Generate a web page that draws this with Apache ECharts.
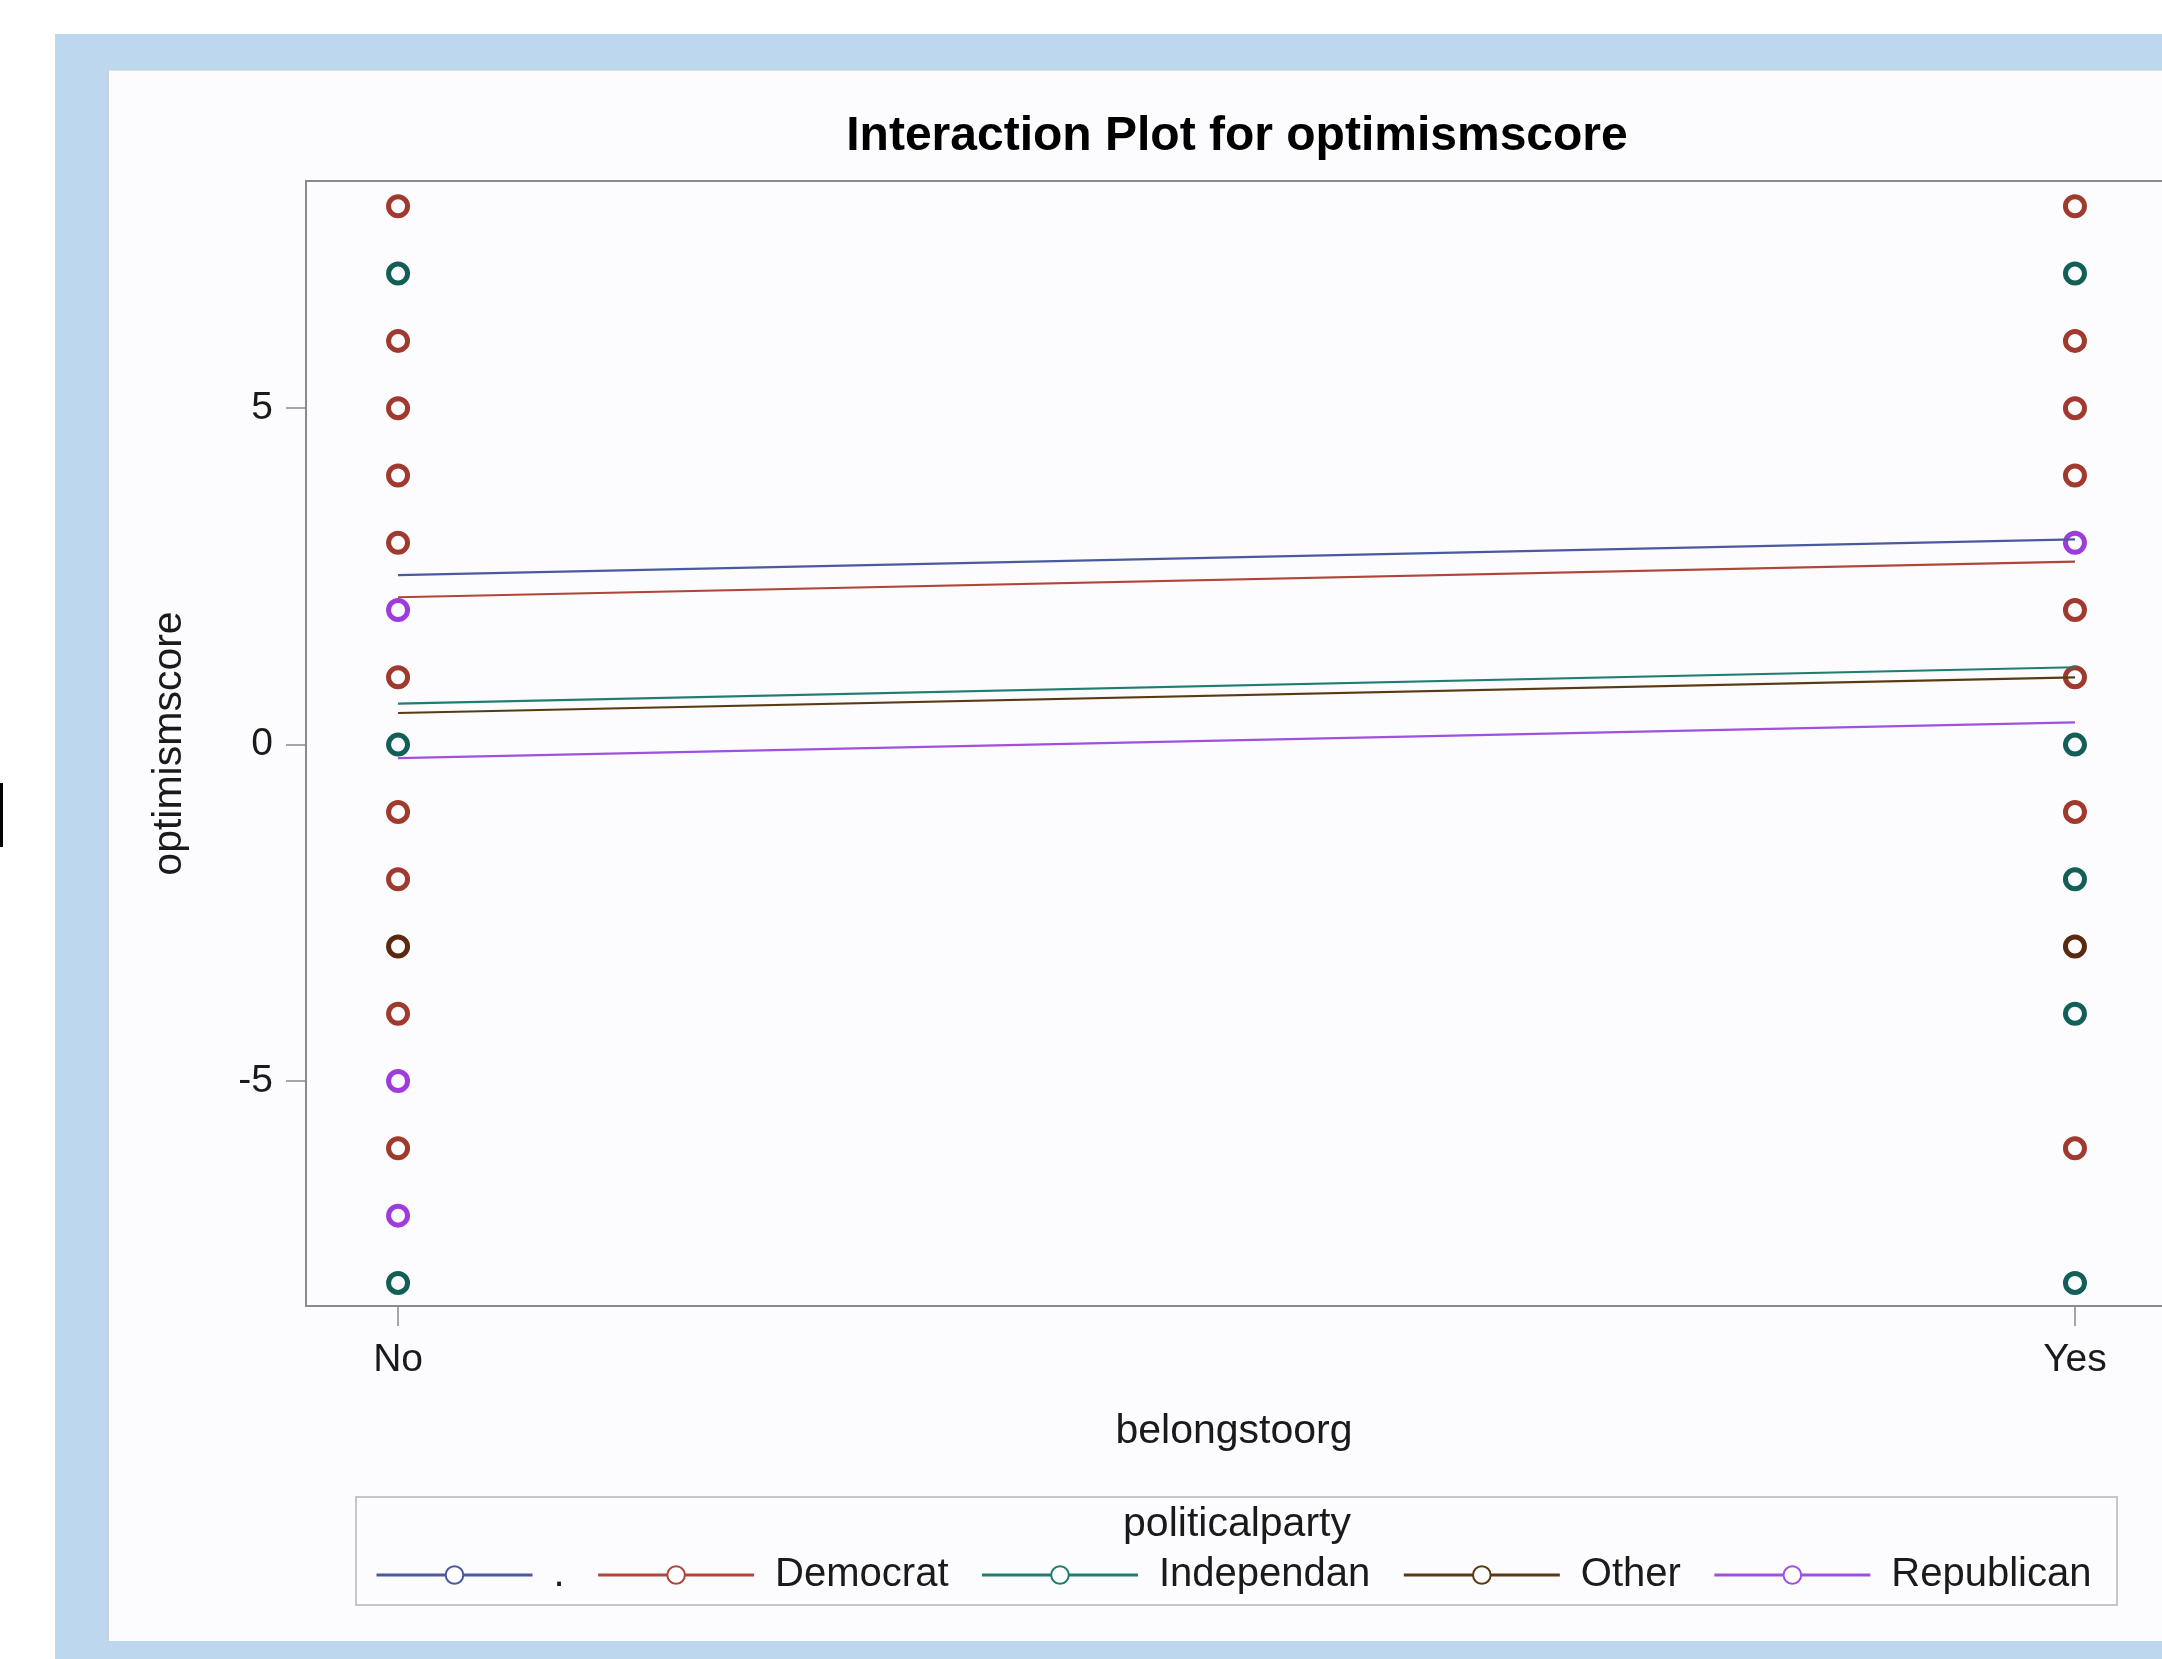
<!DOCTYPE html>
<html>
<head>
<meta charset="utf-8">
<script src="https://cdn.jsdelivr.net/npm/echarts@6/dist/echarts.min.js"></script>
<style>
html,body{margin:0;padding:0;background:#ffffff;}
#wrap{position:relative;width:2162px;height:1659px;overflow:hidden;background:#ffffff;}
#blue{position:absolute;left:55px;top:34px;width:2107px;height:1625px;background:#bdd7ee;}
#panel{position:absolute;left:107px;top:70px;width:2055px;height:1571px;background:#fcfbfe;border-left:2px solid #d0d0d0;border-top:1px solid #e2ddd0;box-sizing:border-box;}
#bar{position:absolute;left:0;top:783px;width:3px;height:64px;background:#000;}
#c{position:absolute;left:0;top:0;width:2162px;height:1659px;}
</style>
</head>
<body>
<div id="wrap">
  <div id="blue"></div>
  <div id="panel"></div>
  <div id="bar"></div>
  <div id="c"></div>
</div>
<script>
// ---- data ----
const categories = ['No', 'Yes'];
const groups = ['.', 'Democrat', 'Independan', 'Other', 'Republican'];
const meanNo  = [2.52, 2.19, 0.61, 0.47, -0.20];
const meanYes = [3.05, 2.72, 1.15, 1.00, 0.33];
const yTicks = [-5, 0, 5];

// observed scores (visible marker colour per position)
const dotNo = [];
const dotYes = [];
const democratNo = [8, 6, 5, 4, 3, 1, -1, -2, -4, -6];
const democratYes = [8, 6, 5, 4, 2, 1, -1, -6];
const independanNo = [7, 0, -8];
const independanYes = [7, 0, -2, -4, -8];
const otherNo = [-3];
const otherYes = [-3];
const republicanNo = [2, -5, -7];
const republicanYes = [3];

const obsNo = [dotNo, democratNo, independanNo, otherNo, republicanNo];
const obsYes = [dotYes, democratYes, independanYes, otherYes, republicanYes];

// ---- styling ----
const lineColors = ['#4a5a9e', '#b0463a', '#1f7d72', '#5a3a12', '#a050e0'];
const markColors = ['#445694', '#a0392e', '#125f58', '#5a2a10', '#9d3cdb'];
const FONT = '"Liberation Sans", Arial, sans-serif';
const PANEL = '#fcfbfe';
const FRAME = { color: '#8a8a8a', width: 2 };

const series = [];
groups.forEach((g, i) => {
  const pts = [];
  obsNo[i].forEach(v => pts.push([0, v]));
  obsYes[i].forEach(v => pts.push([1, v]));
  series.push({
    name: g + ' obs',
    type: 'scatter',
    data: pts,
    symbol: 'circle',
    symbolSize: 19,
    itemStyle: { color: PANEL, borderColor: markColors[i], borderWidth: 5, opacity: 1 },
    emphasis: { disabled: true },
    z: 2
  });
});
groups.forEach((g, i) => {
  series.push({
    name: g,
    type: 'line',
    data: [[0, meanNo[i]], [1, meanYes[i]]],
    symbol: 'emptyCircle',
    showSymbol: false,
    lineStyle: { color: lineColors[i], width: 2.2 },
    itemStyle: { color: lineColors[i] },
    emphasis: { disabled: true },
    z: 3
  });
});

const chart = echarts.init(document.getElementById('c'), null, { renderer: 'canvas' });
chart.setOption({
  backgroundColor: 'transparent',
  animation: false,
  textStyle: { fontFamily: FONT },
  grid: {
    left: 306, top: 181, right: 0, height: 1125,
    show: true, borderWidth: 0,
    backgroundColor: PANEL, containLabel: false
  },
  xAxis: [{
    type: 'value',
    min: -0.0549, max: 1.0519,
    axisLine: { show: true, onZero: false, lineStyle: FRAME },
    splitLine: { show: false },
    axisTick: { show: true, customValues: [0, 1], length: 20, lineStyle: { color: '#8a8a8a', width: 1.5 } },
    axisLabel: {
      customValues: [0, 1],
      formatter: v => categories[Math.round(v)],
      fontSize: 39, color: '#1a1a1a', margin: 35, fontFamily: FONT
    },
    name: 'belongstoorg',
    nameLocation: 'middle',
    nameGap: 105,
    nameTextStyle: { fontSize: 41, color: '#1a1a1a', fontFamily: FONT }
  }, {
    type: 'value',
    position: 'top',
    min: -0.0549, max: 1.0519,
    axisLine: { show: true, onZero: false, lineStyle: FRAME },
    axisTick: { show: false },
    axisLabel: { show: false },
    splitLine: { show: false }
  }],
  yAxis: {
    type: 'value',
    min: -8.343, max: 8.376,
    axisLine: { show: true, onZero: false, lineStyle: FRAME },
    splitLine: { show: false },
    axisTick: { show: true, customValues: yTicks, length: 20, lineStyle: { color: '#8a8a8a', width: 1.5 } },
    axisLabel: {
      customValues: yTicks,
      fontSize: 39, color: '#1a1a1a', margin: 33, fontFamily: FONT
    },
    name: 'optimismscore',
    nameLocation: 'middle',
    nameGap: 116,
    nameTextStyle: { fontSize: 41, color: '#1a1a1a', fontFamily: FONT }
  },
  legend: {
    data: groups,
    left: 375,
    top: 1555,
    orient: 'horizontal',
    itemWidth: 156,
    itemHeight: 22,
    itemGap: 32,
    padding: 0,
    selectedMode: false,
    lineStyle: { width: 3 },
    textStyle: { fontSize: 40, color: '#1a1a1a', fontFamily: FONT, padding: [0, 0, 0, 16] }
  },
  graphic: [
    {
      type: 'text', x: 1237, y: 137, z: 10,
      style: { text: 'Interaction Plot for optimismscore', fontSize: 48, fontWeight: 'bold',
               fontFamily: FONT, fill: '#000', align: 'center', verticalAlign: 'middle' }
    },
    {
      type: 'rect', z: 10,
      shape: { x: 356, y: 1497, width: 1761, height: 108 },
      style: { fill: 'none', stroke: '#c6c6c6', lineWidth: 2 }
    },
    {
      type: 'text', x: 1237, y: 1525, z: 10,
      style: { text: 'politicalparty', fontSize: 41, fontFamily: FONT, fill: '#1a1a1a',
               align: 'center', verticalAlign: 'middle' }
    }
  ],
  series: series
});
</script>
</body>
</html>
